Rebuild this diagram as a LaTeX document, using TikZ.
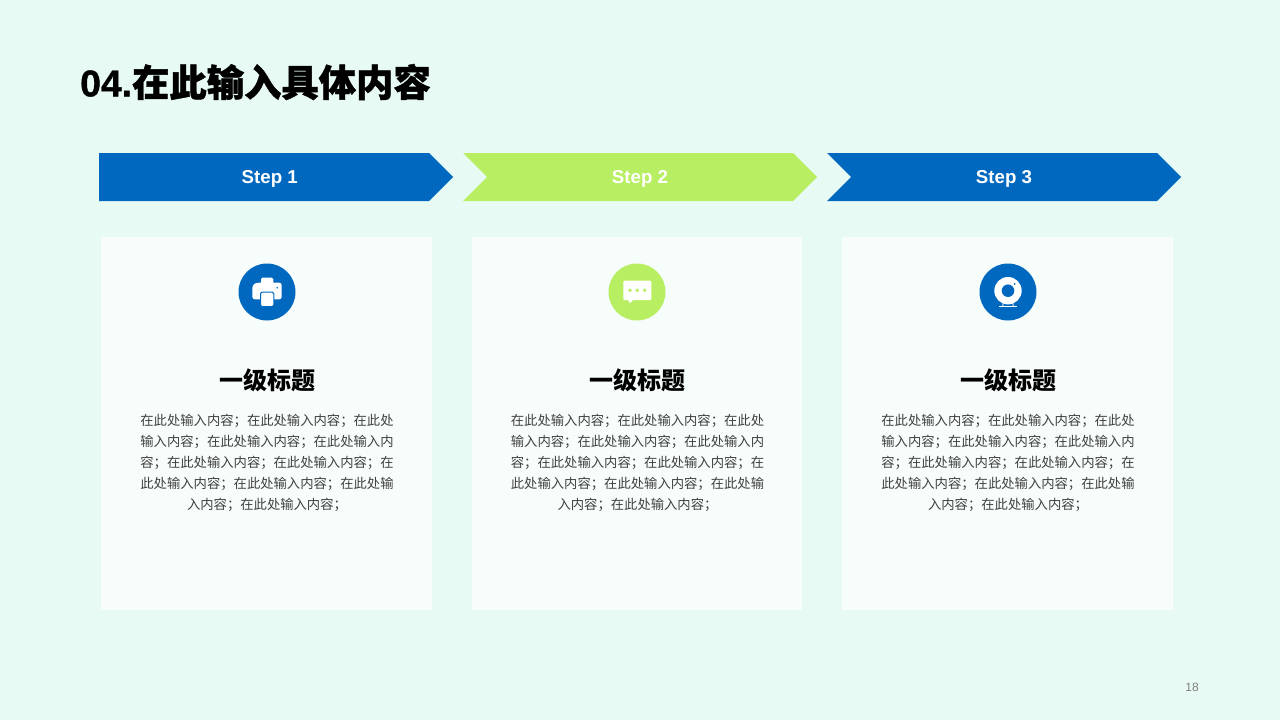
\documentclass[tikz,border=0pt]{standalone}
\usepackage{fontspec}
\setmainfont{Liberation Sans}
\newfontfamily\cjk{Noto Sans CJK SC}
\newfontfamily\cjkfat[BoldFeatures={FakeBold=1.2}]{Noto Sans CJK SC}
\newfontfamily\latinfat[BoldFeatures={FakeBold=1}]{Liberation Sans}
\usetikzlibrary{positioning,shapes.symbols}
\definecolor{pagebg}{HTML}{E8FAF4}
\definecolor{cardbg}{HTML}{F6FDFB}
\definecolor{blueish}{HTML}{0068BF}
\definecolor{greenish}{HTML}{B8EE62}
\definecolor{bodygray}{HTML}{404040}
\newcommand{\bodytext}{在此处输入内容；在此处输入内容；在此处\\输入内容；在此处输入内容；在此处输入内\\容；在此处输入内容；在此处输入内容；在\\此处输入内容；在此处输入内容；在此处输\\入内容；在此处输入内容；}
\tikzset{
  printer/.pic={
    \fill[white,rounded corners=1.5pt] (-6,-14.3) rectangle (6.3,-7.7);
    \fill[white,rounded corners=2.5pt] (-14.7,-6.5) -- (-11,-9.3) -- (14.7,-9.3) -- (14.7,7.3) -- (-14.7,7.3) -- cycle;
    \fill[blueish] (10.3,-4.3) circle (0.9);
    \fill[white,rounded corners=1.5pt,draw=blueish,line width=1pt] (-6.5,0.2) rectangle (6.8,14.5);
  },
  bubble/.pic={
    \fill[white,rounded corners=1pt] (-13.7,-11.3) rectangle (14.3,8);
    \fill[white] (-9,7.5) -- (-7.2,11.3) -- (-3.3,7.5) -- cycle;
    \fill[greenish] (-7,-1.7) circle (1.9);
    \fill[greenish] (0.3,-1.7) circle (1.9);
    \fill[greenish] (7.7,-1.7) circle (1.9);
  },
  webcam/.pic={
    \draw[white,line width=0.9pt] (-4.6,9) -- (-5.2,14);
    \draw[white,line width=0.9pt] (4.6,9) -- (5.2,14);
    \fill[white] (-9.3,13.7) rectangle (9.3,14.7);
    \fill[white] (0,-1.3) circle (13.7);
    \fill[blueish] (0,-1.3) circle (6.3);
    \fill[blueish] (6.7,-8) circle (1);
  }
}
\begin{document}
\begin{tikzpicture}[x=1pt,y=-1pt,
  arrowbox/.style={signal,signal to=east,signal pointer angle=90,minimum width=354pt,minimum height=48pt,inner sep=0pt,text=white,text height=12pt,text depth=0pt,font=\fontsize{18.67}{22}\selectfont\bfseries},
  card/.style={fill=cardbg,minimum width=330.5pt,minimum height=373pt,inner sep=0pt},
  ico/.style={circle,minimum size=57pt,inner sep=0pt},
  headline/.style={font=\fontsize{24}{28}\selectfont\cjk\bfseries,inner sep=0pt},
  para/.style={align=center,text=bodygray,font=\fontsize{13.33}{20.8}\selectfont\cjk,inner sep=0pt},
  node distance=39.6pt]
  \fill[pagebg] (0,0) rectangle (1280,720);
  \useasboundingbox (0,0) rectangle (1280,720);
  \node[anchor=west,inner sep=0pt,font=\fontsize{37.33}{44}\selectfont\bfseries] (title) at (80,82) {\latinfat 04.{\cjkfat 在此输入具体内容}};
  % arrows
  \node[arrowbox,fill=blueish,signal from=nowhere] (step1) at (264,177) {\hspace*{11.5pt}Step 1};
  \node[arrowbox,fill=greenish,signal from=west] (step2) at (640,177) {Step 2};
  \node[arrowbox,fill=blueish,signal from=west] (step3) at (1004,177) {Step 3};
  % cards
  \node[card] (card1) at (266.5,423.5) {};
  \node[card] (card2) [right=of card1] {};
  \node[card] (card3) [right=of card2] {};
  \node[ico,fill=blueish] (ico1) at (267,292) {};
  \node[ico,fill=greenish] (ico2) at (637,292) {};
  \node[ico,fill=blueish] (ico3) at (1008,292) {};
  \pic at (ico1.center) {printer};
  \pic at (ico2.center) {bubble};
  \pic at (ico3.center) {webcam};
  \node[headline] (head1) at (267,380) {一级标题};
  \node[headline] (head2) at (637.5,380) {一级标题};
  \node[headline] (head3) at (1008,380) {一级标题};
  \node[para,anchor=north] (para1) at (267,414.5) {\bodytext};
  \node[para,anchor=north] (para2) at (637.5,414.5) {\bodytext};
  \node[para,anchor=north] (para3) at (1008,414.5) {\bodytext};
  \node[text=gray,font=\fontsize{12}{14}\selectfont,inner sep=0pt] (page) at (1192,687) {18};
\end{tikzpicture}
\end{document}
